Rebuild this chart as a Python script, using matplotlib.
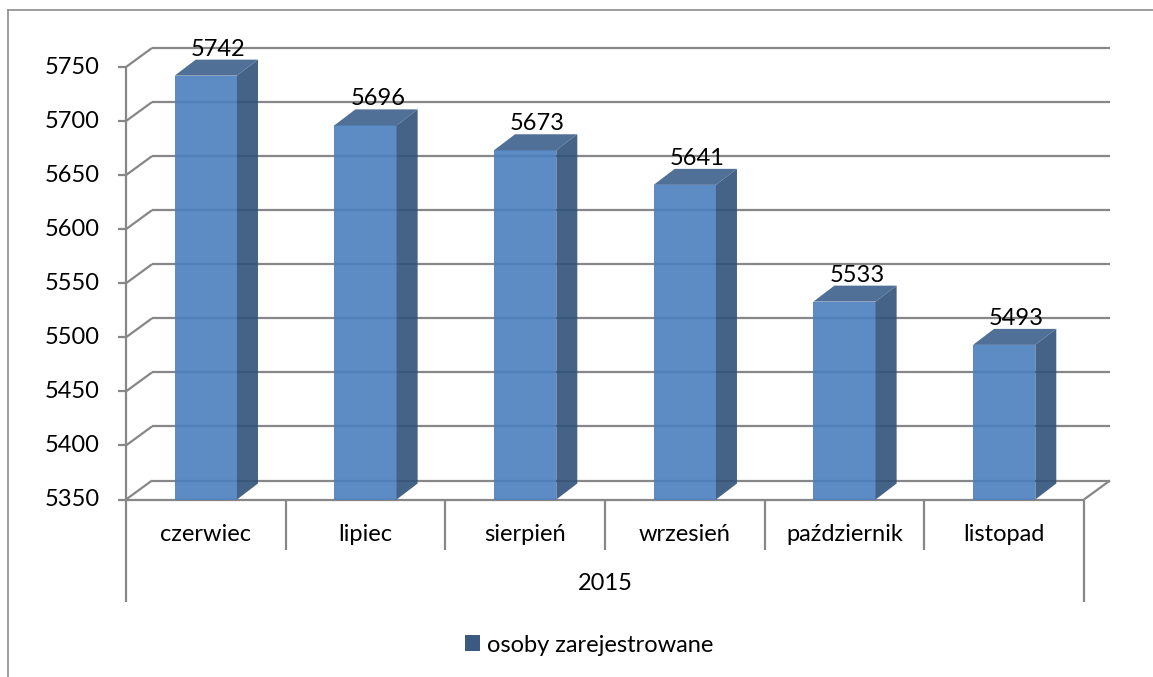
import matplotlib
matplotlib.use("Agg")
import matplotlib.pyplot as plt
import numpy as np
from matplotlib.lines import Line2D
from matplotlib.patches import Polygon, Patch
from matplotlib.transforms import IdentityTransform

# ---- data ----
categories = ["czerwiec", "lipiec", "sierpień", "wrzesień", "październik", "listopad"]
values = [5742, 5696, 5673, 5641, 5533, 5493]
year_label = "2015"
series_name = "osoby zarejestrowane"
yticks = [5350, 5400, 5450, 5500, 5550, 5600, 5650, 5700, 5750]

plt.rcParams['font.family'] = ['Lato', 'DejaVu Sans']

W, H = 1153, 677
DPI = 100
fig = plt.figure(figsize=(W / DPI, H / DPI), dpi=DPI)
fig.patch.set_facecolor("white")

# front plane of the 3D box, in pixels from top-left
X0, X1 = 126, 1084
YB, YT = 499.5, 67
ax = fig.add_axes([X0 / W, (H - YB) / H, (X1 - X0) / W, (YB - YT) / H])
n = len(categories)
ax.set_xlim(-0.5, n - 0.5)
ax.set_ylim(yticks[0], yticks[-1])
ax.set_autoscale_on(False)
ax.axis("off")

GRID = "#878787"
LW = 1.6
WDX, WDY = 26, 19      # wall depth offset (px)
BDX, BDY = 21, 16      # bar depth offset (px)
FRONT = "#4B7FBD"
SIDE = "#31527A"
TOP = "#3D608C"
ALPHA = 0.9
FS = 17

ID = IdentityTransform()
tod = ax.transData.transform


def dline(pts, z=1, color=GRID, lw=LW):
    pts = np.asarray(pts)
    ln = Line2D(pts[:, 0], pts[:, 1], transform=ID, color=color, lw=lw,
                zorder=z, clip_on=False, solid_capstyle="butt")
    ax.add_line(ln)


off_w = np.array([WDX, WDY])
for v in yticks:
    p = tod((-0.5, v))
    q = tod((n - 0.5, v))
    dline([p, p + off_w])
    dline([p + off_w, q + off_w])
    # tick
    dline([p - np.array([8, 0]), p])
    ax.annotate(str(v), xy=(-0.5, v), xytext=(-26, 0), textcoords="offset pixels",
                ha="right", va="center", fontsize=FS, color="black",
                annotation_clip=False)

# floor front and right edges
p0 = tod((-0.5, yticks[0]))
q0 = tod((n - 0.5, yticks[0]))
dline([p0, q0], z=1)
dline([q0, q0 + off_w], z=1)

# vertical axis line at left and category dividers
ptop = tod((-0.5, yticks[-1]))
for k in range(n + 1):
    b = tod((k - 0.5, yticks[0]))
    depth = 102 if k in (0, n) else 50
    start = ptop if k == 0 else b
    dline([start, b - np.array([0, depth])], z=1)

# bars
BW = 0.39
x = np.arange(n)
ax.bar(x, np.array(values) - yticks[0], bottom=yticks[0], width=BW,
       color=FRONT, alpha=ALPHA, zorder=3, linewidth=0)
off_b = np.array([BDX, BDY])
for i, v in enumerate(values):
    bl = tod((i - BW / 2, yticks[0]))
    br = tod((i + BW / 2, yticks[0]))
    tl = tod((i - BW / 2, v))
    tr = tod((i + BW / 2, v))
    side = Polygon([br, tr, tr + off_b, br + off_b], closed=True, transform=ID,
                   facecolor=SIDE, alpha=ALPHA, lw=0, zorder=3, clip_on=False)
    top = Polygon([tl, tr, tr + off_b, tl + off_b], closed=True, transform=ID,
                  facecolor=TOP, alpha=ALPHA, lw=0, zorder=3, clip_on=False)
    ax.add_patch(side)
    ax.add_patch(top)
    ax.annotate(str(v), xy=(i, v), xytext=(BDX / 2 + 2, BDY + 4),
                textcoords="offset pixels", ha="center", va="baseline",
                fontsize=FS, color="black", annotation_clip=False, zorder=5)

# category labels
for i, c in enumerate(categories):
    ax.annotate(c, xy=(i, yticks[0]), xytext=(0, -35), textcoords="offset pixels",
                ha="center", va="center", fontsize=FS, color="black",
                annotation_clip=False)
ax.annotate(year_label, xy=((n - 1) / 2, yticks[0]), xytext=(0, -84),
            textcoords="offset pixels", ha="center", va="center", fontsize=FS,
            color="black", annotation_clip=False)

# legend
handle = Patch(facecolor="#3B5A82", edgecolor="none")
fig.legend([handle], [series_name], loc="center",
           bbox_to_anchor=(589 / W, (H - 645) / H), frameon=False,
           fontsize=FS, handlelength=0.64, handleheight=0.64,
           handletextpad=0.3)

# outer chart-area border (left and top)
fig.add_artist(Line2D([8 / W, 8 / W], [0, (H - 10) / H], transform=fig.transFigure,
                      color="#8C8C8C", lw=1.2))
fig.add_artist(Line2D([8 / W, 1], [(H - 10) / H, (H - 10) / H], transform=fig.transFigure,
                      color="#8C8C8C", lw=1.2))

fig.savefig("out.png", dpi=DPI, facecolor="white")
